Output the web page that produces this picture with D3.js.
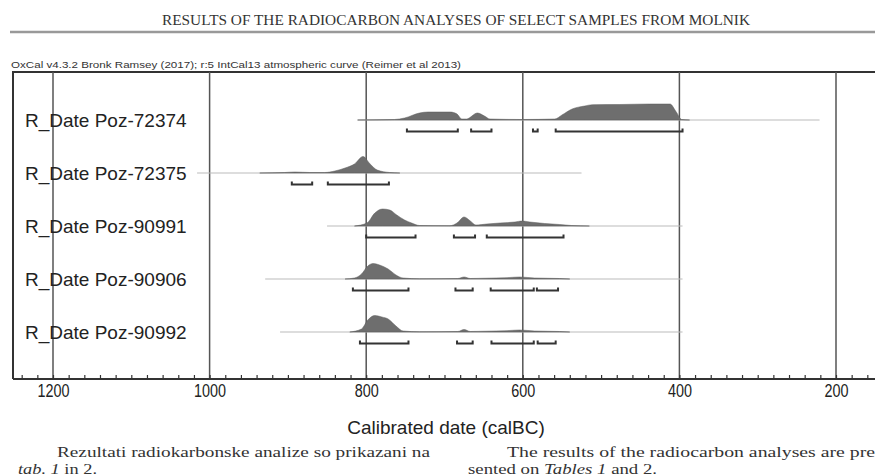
<!DOCTYPE html>
<html lang="en">
<head>
<meta charset="utf-8">
<title>Radiocarbon dates - Molnik</title>
<script src="https://cdn.jsdelivr.net/npm/d3@7"></script>
<style>
  body { margin: 0; background: #fff; }
  svg { display: block; }
</style>
</head>
<body>
<script>
// sample names, top to bottom
var samples = ["R_Date Poz-72374", "R_Date Poz-72375", "R_Date Poz-90991", "R_Date Poz-90906", "R_Date Poz-90992"];

// extent of each row's thin base line (calBC)
var rowExtents = [[811, 221], [1016, 525], [850, 396], [929, 396], [910, 396]];

// probability distributions: [year calBC, relative probability]
var dist72374 = [[811,0],[764,0.5],[751,2],[732,7],[721,8],[693,8],[684,6],[678,1],[672,1],[658,7],[649,4],[642,1],
                 [601,0.5],[559,1],[550,5],[537,11],[521,14],[511,15.3],[476,15.5],[438,16],[412,16],[404,8],[397,0.5],[387,0]];
var dist72375 = [[936,0],[904,0.5],[891,1],[872,0.5],[853,0.5],[840,2],[827,5],[815,9],[804,16.5],[795,9],[786,3],[770,0.5],[757,0]];
var dist90991 = [[815,0],[799,3],[789,13],[779,17],[770,16],[761,11],[751,6],[742,3],[732,0.5],[693,0.3],[684,3],[675,9],
                 [667,5],[660,1],[646,2],[629,3],[610,4],[601,5],[591,4],[572,2.5],[553,1.5],[538,0.5],[515,0]];
var dist90906 = [[827,0],[815,1],[806,5],[798,13],[791,15.5],[783,14],[772,10],[762,4],[753,1],[732,0.2],[683,0.5],[675,2],
                 [667,0.5],[646,0.8],[623,1.2],[604,2],[585,1],[553,0.5],[540,0]];
var dist90992 = [[821,0],[806,3],[798,12],[789,16.5],[780,15],[772,13],[762,6],[753,1],[732,0.2],[683,0.5],[675,2.5],
                 [667,0.5],[646,0.8],[623,1.2],[604,2],[585,1],[553,0.5],[540,0]];
var distributions = [dist72374, dist72375, dist90991, dist90906, dist90992];

// 95.4% ranges (calBC)
var ranges = [
  [[748, 683], [666, 640], [587, 581], [558, 396]],
  [[895, 869], [849, 771]],
  [[800, 737], [688, 661], [646, 548]],
  [[817, 746], [686, 664], [641, 586], [582, 555]],
  [[808, 746], [684, 664], [640, 586], [581, 558]]
];

var majorTicks = [1200, 1000, 800, 600, 400, 200];
var minorTicks = d3.range(1240, 140, -20);

var width = 875, height = 476;
var frameLeft = 13, frameTop = 72, axisY = 379;

var x = d3.scaleLinear().domain([1200, 200]).range([53, 836]);
var row = d3.scalePoint().domain(samples).range([120, 332]);
var prob = d3.scaleLinear().domain([0, 17]).range([0, 17]);

var svg = d3.select("body").append("svg")
            .attr("width", width)
            .attr("height", height);

// page header
svg.append("text")
   .attr("x", 456)
   .attr("y", 25)
   .attr("text-anchor", "middle")
   .attr("font-family", "Liberation Serif, serif")
   .attr("font-size", 15)
   .attr("fill", "#333")
   .attr("textLength", 588)
   .attr("lengthAdjust", "spacingAndGlyphs")
   .text("RESULTS OF THE RADIOCARBON ANALYSES OF SELECT SAMPLES FROM MOLNIK");

svg.append("line")
   .attr("x1", 10).attr("x2", width)
   .attr("y1", 32).attr("y2", 32)
   .attr("stroke", "#999")
   .attr("stroke-width", 2.5);

svg.append("text")
   .attr("x", 11)
   .attr("y", 68)
   .attr("font-family", "Liberation Sans, Arial, sans-serif")
   .attr("font-size", 9)
   .attr("fill", "#333")
   .attr("textLength", 450)
   .attr("lengthAdjust", "spacingAndGlyphs")
   .text("OxCal v4.3.2 Bronk Ramsey (2017); r:5 IntCal13 atmospheric curve (Reimer et al 2013)");

// frame
svg.append("path")
   .attr("d", "M" + frameLeft + "," + axisY + "V" + frameTop + "H" + width)
   .attr("fill", "none")
   .attr("stroke", "#333")
   .attr("stroke-width", 2);

// vertical grid lines at the labelled years
svg.append("g")
   .selectAll("line")
   .data(majorTicks)
   .enter()
   .append("line")
   .attr("x1", function(d) { return x(d); })
   .attr("x2", function(d) { return x(d); })
   .attr("y1", frameTop)
   .attr("y2", axisY)
   .attr("stroke", "#555")
   .attr("stroke-width", 1.5);

// rows
var rows = svg.append("g")
              .selectAll("g")
              .data(samples)
              .enter()
              .append("g")
              .attr("transform", function(d) { return "translate(0," + row(d) + ")"; });

rows.append("line")
    .attr("x1", function(d, i) { return x(rowExtents[i][0]); })
    .attr("x2", function(d, i) { return x(rowExtents[i][1]); })
    .attr("stroke", "#bbb")
    .attr("stroke-width", 1);

var area = d3.area()
             .x(function(d) { return x(d[0]); })
             .y0(0)
             .y1(function(d) { return -prob(d[1]); })
             .curve(d3.curveMonotoneX);

rows.append("path")
    .attr("d", function(d, i) { return area(distributions[i]); })
    .attr("fill", "#6e6e6e")
    .attr("stroke", "#5a5a5a")
    .attr("stroke-width", 0.5);

rows.selectAll(".range")
    .data(function(d, i) { return ranges[i]; })
    .enter()
    .append("path")
    .attr("class", "range")
    .attr("d", function(r) {
      var a = x(r[0]), b = x(r[1]);
      return "M" + a + ",8.5V11.5H" + b + "V8.5";
    })
    .attr("fill", "none")
    .attr("stroke", "#333")
    .attr("stroke-width", 2);

rows.append("text")
    .attr("x", 25)
    .attr("y", 7)
    .attr("font-family", "Liberation Sans, Arial, sans-serif")
    .attr("font-size", 19)
    .attr("fill", "#222")
    .text(function(d) { return d; });

// time axis: minor ticks pointing up, labels below
var x2 = x.copy().range([x(1200), x(200)]);
var minorAxis = d3.axisTop(x2).tickValues(minorTicks).tickSize(4).tickFormat("");
var axisG = svg.append("g")
               .attr("transform", "translate(0," + axisY + ")")
               .call(minorAxis);
axisG.select(".domain").remove();
axisG.selectAll("line").attr("stroke", "#333").attr("stroke-width", 1.2);

svg.append("line")
   .attr("x1", frameLeft).attr("x2", width)
   .attr("y1", axisY).attr("y2", axisY)
   .attr("stroke", "#333")
   .attr("stroke-width", 2);

var labelAxis = d3.axisBottom(x).tickValues(majorTicks).tickSize(0).tickPadding(0)
                  .tickFormat(d3.format("d"));
var labelG = svg.append("g")
                .attr("transform", "translate(0," + axisY + ")")
                .call(labelAxis);
labelG.select(".domain").remove();
labelG.selectAll("text")
      .attr("y", 18)
      .attr("dy", 0)
      .attr("font-family", "Liberation Sans, Arial, sans-serif")
      .attr("font-size", 18)
      .attr("fill", "#222")
      .attr("textLength", function(d) { return String(d).length * 8; })
      .attr("lengthAdjust", "spacingAndGlyphs");

svg.append("text")
   .attr("x", 446)
   .attr("y", 434)
   .attr("text-anchor", "middle")
   .attr("font-family", "Liberation Sans, Arial, sans-serif")
   .attr("font-size", 19)
   .attr("fill", "#222")
   .text("Calibrated date (calBC)");

// body text below the figure
var serif = "Liberation Serif, serif";
function bodyLine(xPos, yPos, parts, len) {
  var t = svg.append("text")
             .attr("x", xPos)
             .attr("y", yPos)
             .attr("font-family", serif)
             .attr("font-size", 14.5)
             .attr("fill", "#333");
  if (len) t.attr("textLength", len).attr("lengthAdjust", "spacingAndGlyphs");
  parts.forEach(function(p) {
    t.append("tspan")
     .attr("font-style", p[1] ? "italic" : "normal")
     .text(p[0]);
  });
}
bodyLine(57, 457, [["Rezultati radiokarbonske analize so prikazani na", false]], 373);
bodyLine(18, 474, [["tab. 1", true], [" in 2.", false]], 79);
bodyLine(507, 457, [["The results of the radiocarbon analyses are pre", false]], 368);
bodyLine(468, 474, [["sented on ", false], ["Tables 1", true], [" and 2.", false]], 189);
</script>
</body>
</html>
